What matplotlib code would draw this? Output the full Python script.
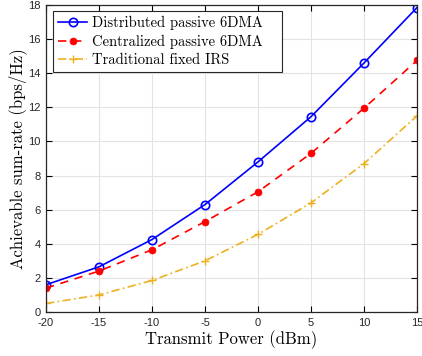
import matplotlib
matplotlib.use("Agg")
import matplotlib.pyplot as plt

power_dbm = [-20, -15, -10, -5, 0, 5, 10, 15]
distributed = [1.6, 2.65, 4.25, 6.3, 8.8, 11.45, 14.6, 17.85]
centralized = [1.4, 2.4, 3.65, 5.3, 7.05, 9.3, 11.95, 14.75]
fixed_irs = [0.5, 1.0, 1.85, 3.0, 4.55, 6.4, 8.7, 11.5]

labels = ["Distributed passive 6DMA", "Centralized passive 6DMA", "Traditional fixed IRS"]
xticks = [-20, -15, -10, -5, 0, 5, 10, 15]
yticks = [0, 2, 4, 6, 8, 10, 12, 14, 16, 18]

serif = ["cmr10", "DejaVu Serif"]
plt.rcParams["axes.unicode_minus"] = False

fig = plt.figure(figsize=(4.22, 3.56), dpi=100)
ax = fig.add_axes([46 / 422, 1 - 312 / 356, (417 - 46) / 422, (312 - 5) / 356])

ax.plot(power_dbm, distributed, color="blue", lw=1.2, marker="o", ms=6,
        mfc="none", mew=1.2, label=labels[0])
ax.plot(power_dbm, centralized, color="red", lw=1.2, ls=(0, (5, 4)),
        marker="o", ms=5, mew=0.5, label=labels[1])
ax.plot(power_dbm, fixed_irs, color=(0.929, 0.694, 0.125), lw=1.2,
        ls=(0, (5, 2, 1, 2)), marker="+", ms=6, mew=1.0, label=labels[2])

ax.set_xlim(-20, 15)
ax.set_ylim(0, 18)
ax.set_xticks(xticks)
ax.set_xticklabels([str(v) for v in xticks])
ax.set_yticks(yticks)
ax.set_yticklabels([str(v) for v in yticks])
for lab in ax.get_xticklabels() + ax.get_yticklabels():
    lab.set_family("Liberation Sans")
    lab.set_fontsize(8)
    lab.set_color("#262626")

ax.tick_params(direction="in", top=True, right=True, length=4, width=0.8, pad=4)
ax.grid(True, color="#e3e3e3", lw=0.8)
ax.set_axisbelow(True)
for s in ax.spines.values():
    s.set_linewidth(0.9)
    s.set_color("#262626")

ax.set_xlabel("Transmit Power (dBm)", family=serif, fontsize=12, labelpad=2)
ax.set_ylabel("Achievable sum-rate (bps/Hz)", family=serif, fontsize=12, labelpad=1)

leg = ax.legend(loc="upper left", bbox_to_anchor=(0.019, 0.98, 0.617, 0.0),
                mode="expand", prop={"family": serif, "size": 10.5},
                fancybox=False, edgecolor="#262626", framealpha=1,
                handlelength=2.0, borderpad=0.35, labelspacing=0.3,
                handletextpad=0.3, borderaxespad=0.0)
leg.get_frame().set_linewidth(0.8)

fig.savefig("out.png", dpi=100)
